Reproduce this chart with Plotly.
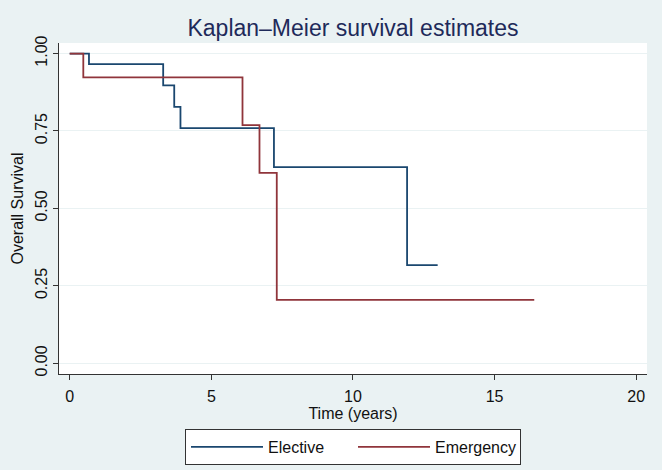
import plotly.graph_objects as go

# Data (Kaplan-Meier step curves)
elective_t = [0, 0.68, 3.30, 3.69, 3.91, 7.21, 11.91, 12.99]
elective_s = [1.0, 0.966, 0.897, 0.828, 0.759, 0.633, 0.317, 0.317]
emergency_t = [0, 0.48, 6.10, 6.70, 7.31, 16.40]
emergency_s = [1.0, 0.923, 0.769, 0.615, 0.205, 0.205]

x_ticks = [0, 5, 10, 15, 20]
y_ticks = [0.0, 0.25, 0.5, 0.75, 1.0]
y_ticklabels = ["0.00", "0.25", "0.50", "0.75", "1.00"]

FONT = "Liberation Sans, Arial, sans-serif"
BG = "#eaf2f3"
AXIS = "#333333"

fig = go.Figure()
fig.add_trace(go.Scatter(x=elective_t, y=elective_s, mode="lines", name="Elective",
                         line=dict(color="#1a476f", width=1.8, shape="hv")))
fig.add_trace(go.Scatter(x=emergency_t, y=emergency_s, mode="lines", name="Emergency",
                         line=dict(color="#90353b", width=1.8, shape="hv")))

fig.update_layout(
    width=662, height=470,
    margin=dict(l=59, r=15, t=43, b=96, autoexpand=False),
    paper_bgcolor=BG, plot_bgcolor="white",
    font=dict(family=FONT, size=16, color="#111111"),
    title=dict(text="Kaplan–Meier survival estimates", x=0.5, xref="paper",
               y=1 - 28 / 470, yref="container", yanchor="middle",
               font=dict(size=23, color="#1e2a5a", family=FONT)),
    showlegend=True,
    legend=dict(orientation="h", x=0.5, xanchor="center",
                y=1 - 429 / 470, yref="container", yanchor="top",
                bgcolor="white", bordercolor="#333333", borderwidth=1,
                font=dict(size=16, color="#111111"), itemwidth=72,
                entrywidth=80, traceorder="normal"),
)
fig.update_xaxes(
    range=[-0.378, 20.38], tickvals=x_ticks, ticktext=[str(v) for v in x_ticks],
    showgrid=False, zeroline=False, showline=True, linecolor=AXIS, linewidth=1,
    ticks="outside", ticklen=5, tickcolor=AXIS, ticklabelstandoff=3, automargin=False,
    title=dict(text="Time (years)", standoff=3, font=dict(size=16)),
    tickfont=dict(size=16),
)
fig.update_yaxes(
    range=[-0.0345, 1.034], tickvals=y_ticks, ticktext=y_ticklabels, tickangle=-90,
    showgrid=True, gridcolor=BG, gridwidth=1, zeroline=False,
    showline=True, linecolor=AXIS, linewidth=1, automargin=False,
    ticks="outside", ticklen=5, tickcolor=AXIS,
    title=dict(text="Overall Survival", standoff=4, font=dict(size=16)),
    tickfont=dict(size=16),
)

fig.write_html("out.html")
